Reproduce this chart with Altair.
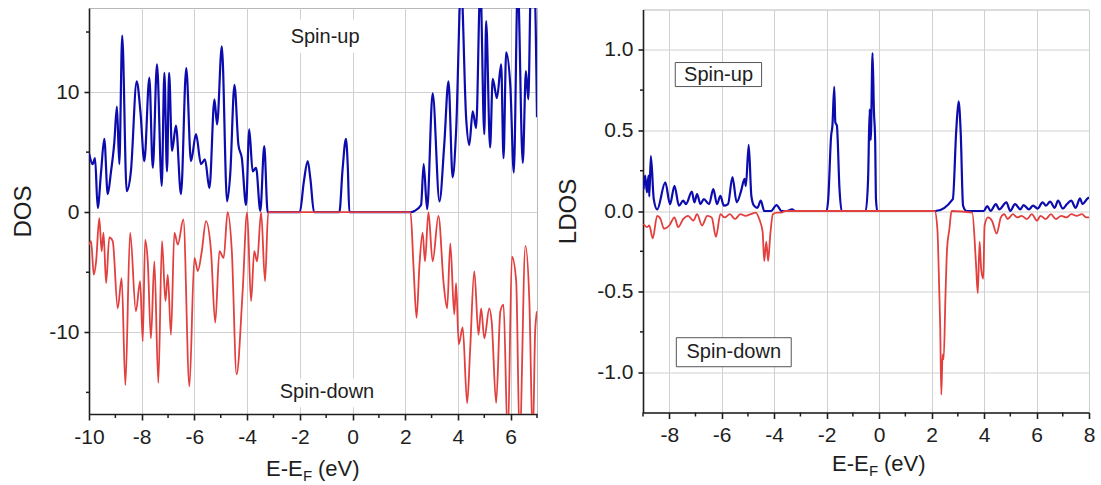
import altair as alt
import pandas as pd

# ---------------- Left panel: total DOS ----------------
dos_up_e = [-10.0, -9.86, -9.77, -9.67, -9.54, -9.42, -9.29, -9.17, -9.04, -8.94, -8.85, -8.74, -8.57, -8.41,
            -8.19, -8.05, -7.90, -7.71, -7.58, -7.42, -7.24, -7.14, -7.04, -6.96, -6.85, -6.70, -6.51, -6.31,
            -6.13, -5.94, -5.75, -5.60, -5.43, -5.24, -5.14, -4.96, -4.76, -4.64, -4.48, -4.33, -4.20, -4.04,
            -3.92, -3.79, -3.66, -3.50, -3.35, -3.22, -2.0, -1.85, -1.70, -1.60, -1.46, -0.5, -0.38, -0.25,
            -0.18, -0.12, 2.22, 2.35, 2.60, 2.70, 2.83, 3.04, 3.30, 3.48, 3.64, 3.80, 3.93, 4.12, 4.31, 4.43,
            4.56, 4.69, 4.85, 5.00, 5.07, 5.22, 5.32, 5.48, 5.64, 5.73, 5.83, 5.99, 6.12, 6.27, 6.46, 6.58,
            6.67, 6.77, 6.90, 7.0]
dos_up_v = [4.9, 4.0, 4.5, 0.35, 3.4, 6.1, 1.5, 3.3, 5.8, 8.8, 4.0, 14.7, 1.75, 3.4,
            10.9, 8.4, 4.25, 11.2, 3.7, 12.3, 2.2, 11.6, 3.4, 11.6, 5.1, 7.2, 1.5, 12.0,
            4.25, 6.5, 4.0, 4.4, 2.0, 9.4, 7.3, 13.8, 0.9, 3.2, 10.6, 5.6, 4.5, 0.6,
            6.9, 3.4, 3.7, 0.1, 5.5, 0.0, 0.0, 2.5, 4.25, 2.8, 0.0, 0.0, 3.5, 6.1,
            3.8, 0.0, 0.0, 0.1, 0.6, 4.0, 0.25, 9.9, 0.9, 5.6, 10.9, 2.9, 6.75, 19.0, 7.9, 5.6,
            8.4, 7.0, 19.0, 6.5, 15.9, 5.4, 11.1, 9.5, 12.3, 4.5, 13.3, 10.4, 3.3, 19.0, 4.1, 11.75,
            9.4, 19.0, 19.0, 7.9]

dos_dn_e = [-10.0, -9.92, -9.82, -9.73, -9.61, -9.52, -9.45, -9.35, -9.23, -9.10, -8.91, -8.76, -8.62, -8.44,
            -8.22, -8.06, -7.96, -7.87, -7.77, -7.65, -7.52, -7.37, -7.23, -7.10, -7.01, -6.89, -6.76, -6.63,
            -6.42, -6.19, -6.00, -5.87, -5.72, -5.56, -5.37, -5.21, -5.05, -4.89, -4.74, -4.58, -4.40, -4.17,
            -4.00, -3.85, -3.73, -3.62, -3.47, -3.32, -3.20, 2.20, 2.32, 2.43, 2.54, 2.66, 2.75, 2.88, 3.04,
            3.26, 3.46, 3.59, 3.71, 3.86, 3.93, 4.03, 4.18, 4.35, 4.46, 4.62, 4.78, 4.88, 5.00, 5.19, 5.28,
            5.45, 5.61, 5.73, 5.89, 6.05, 6.21, 6.34, 6.56, 6.71, 6.84, 6.93, 7.00]
dos_dn_v = [-2.7, -2.4, -5.2, -4.1, -0.5, -3.25, -1.7, -5.9, -2.1, -2.4, -8.0, -5.5, -14.4, -1.7,
            -8.25, -5.75, -10.75, -2.3, -4.1, -10.5, -4.1, -14.2, -2.4, -7.4, -5.2, -10.2, -1.7, -2.7,
            -0.6, -14.5, -3.8, -4.9, -3.25, -0.75, -3.25, -9.2, -3.25, -3.8, 0.0, -3.25, -13.5, -6.6,
            0.0, -7.4, -3.25, -4.1, 0.0, -5.75, 0.0, 0.0, -4.8, -8.8, -4.4, -1.7, -4.1, 0.0, -4.1,
            -0.3, -6.0, -8.0, -2.6, -8.5, -5.9, -11.0, -9.6, -15.9, -11.6, -4.9, -10.2, -8.0, -10.5, -8.0, -9.1,
            -15.9, -8.25, -7.7, -19.0, -3.7, -5.75, -19.0, -2.8, -7.4, -19.0, -9.9, -8.25]

# ---------------- Right panel: LDOS ----------------
ldos_up_e = [-8.98, -8.92, -8.85, -8.79, -8.76, -8.70, -8.59, -8.46, -8.15, -7.97, -7.80, -7.63, -7.47, -7.36,
             -7.14, -7.04, -6.94, -6.81, -6.68, -6.48, -6.32, -6.18, -6.05, -5.92, -5.76, -5.59, -5.43, -5.26,
             -5.13, -5.08, -4.97, -4.87, -4.77, -4.64, -4.51, -4.38, -4.12, -3.91, -3.72, -3.52, -3.32, -3.20,
             -2.0, -1.94, -1.83, -1.78, -1.71, -1.67, -1.61, -1.51, -1.43, -0.51, -0.42, -0.36, -0.32, -0.25,
             -0.20, -0.15, -0.12, -0.07, 2.15, 2.81, 2.94, 3.03, 3.11, 3.20, 3.33, 3.99, 4.12, 4.25, 4.45,
             4.58, 4.85, 5.0, 5.18, 5.38, 5.51, 5.71, 5.87, 6.04, 6.23, 6.36, 6.52, 6.69, 6.82, 7.0, 7.16,
             7.32, 7.49, 7.66, 7.75, 7.92, 8.0]
ldos_up_v = [0.136, 0.22, 0.115, 0.22, 0.09, 0.34, 0.074, 0.01, 0.177, 0.043, 0.156, 0.033, 0.064, 0.043,
             0.12, 0.054, 0.105, 0.043, 0.074, 0.043, 0.136, 0.043, 0.094, 0.033, 0.043, 0.21, 0.054, 0.125,
             0.20, 0.156, 0.41, 0.094, 0.033, 0.02, 0.064, 0.0, 0.0, 0.037, 0.0, 0.0, 0.01, 0.0,
             0.0, 0.074, 0.465, 0.53, 0.77, 0.55, 0.53, 0.136, 0.0, 0.0, 0.2, 0.63, 0.44, 0.98,
             0.63, 0.43, 0.074, 0.0, 0.0, 0.074, 0.5, 0.68, 0.486, 0.033, 0.0, 0.0, 0.03, 0.0, 0.043,
             0.01, 0.054, 0.0, 0.043, 0.01, 0.037, 0.01, 0.033, 0.015, 0.054, 0.033, 0.058, 0.02, 0.064, 0.015, 0.043,
             0.064, 0.02, 0.078, 0.043, 0.074, 0.085]

ldos_dn_e = [-8.98, -8.85, -8.76, -8.63, -8.46, -8.33, -8.20, -8.00, -7.80, -7.66, -7.47, -7.28, -7.08, -6.94,
             -6.75, -6.55, -6.38, -6.22, -6.05, -5.89, -5.69, -5.49, -5.29, -5.09, -4.90, -4.70, -4.57, -4.44,
             -4.38, -4.30, -4.23, -4.15, -4.05, -3.89, -3.72, -3.59, 2.12, 2.22, 2.29, 2.33, 2.37, 2.42, 2.46,
             2.53, 2.59, 2.68, 2.76, 3.55, 3.69, 3.76, 3.83, 3.89, 3.97, 4.02, 4.15, 4.30, 4.48, 4.64, 4.77,
             4.90, 5.10, 5.27, 5.43, 5.63, 5.82, 6.02, 6.15, 6.35, 6.55, 6.74, 6.94, 7.14, 7.33, 7.53, 7.73,
             7.90, 8.00]
ldos_dn_v = [-0.08, -0.10, -0.09, -0.17, -0.03, -0.05, -0.11, -0.09, -0.04, -0.10, -0.05, -0.03, -0.06, -0.02,
             -0.09, -0.03, -0.04, -0.16, -0.02, -0.04, -0.02, -0.05, -0.02, -0.03, -0.02, -0.01, -0.05, -0.13,
             -0.31, -0.19, -0.31, -0.15, -0.02, -0.01, -0.01, 0.0, 0.0, -0.11, -0.48, -0.73, -1.14, -0.89, -0.92,
             -0.52, -0.235, -0.11, 0.0, -0.01, -0.32, -0.51, -0.19, -0.36, -0.42, -0.09, -0.04, -0.06, -0.14, -0.04, -0.02,
             -0.05, -0.02, -0.04, -0.03, -0.05, -0.02, -0.06, -0.03, -0.05, -0.02, -0.05, -0.03, -0.04, -0.02, -0.03, -0.02,
             -0.04, -0.04]

# Axis ticks
left_x_major = [-10, -8, -6, -4, -2, 0, 2, 4, 6]
left_x_minor = [-9, -7, -5, -3, -1, 1, 3, 5, 7]
left_y_major = [-10, 0, 10]
left_y_minor = [-15, -5, 5, 15]
right_x_major = [-8, -6, -4, -2, 0, 2, 4, 6, 8]
right_x_minor = [-9, -7, -5, -3, -1, 1, 3, 5, 7]
right_y_major = [-1.0, -0.5, 0.0, 0.5, 1.0]
right_y_minor = [-0.75, -0.25, 0.25, 0.75]

# Annotations
left_labels = ["Spin-up", "Spin-down"]
left_label_x = [-1.04, -0.97]
left_label_y = [14.6, -15.0]
left_bg_x = [-2.6, -3.0]
left_bg_x2 = [0.5, 1.05]
left_bg_y = [16.0, -13.9]
left_bg_y2 = [13.3, -16.2]

right_labels = ["Spin-up", "Spin-down"]
right_label_x = [-6.12, -5.54]
right_label_y = [0.846, -0.876]
right_box_x = [-7.77, -7.73]
right_box_x2 = [-4.48, -3.35]
right_box_y = [0.921, -0.786]
right_box_y2 = [0.772, -0.966]

BLUE = "#0c0cae"
RED = "#e2403f"
INK = "#1e1e1e"
FONT = "Liberation Sans"
MINUS = "replace(datum.label, '\u2212', '-')"


def panel(up_e, up_v, dn_e, dn_v, xdom, ydom, xmaj, xmin, ymaj, ymin, yfmt, ytitle,
          W, H, ytitlepad, lab, lab_x, lab_y, bx, bx2, by, by2, boxed, xt_center, xt_base):
    xs = alt.Scale(domain=xdom, nice=False, zero=False)
    ys = alt.Scale(domain=ydom, nice=False, zero=False)
    xaxis = alt.Axis(values=xmaj, title=None, grid=True, tickSize=6, labelPadding=6,
                     labelExpr=MINUS, labelFlush=False, labelOverlap=False,
                     labelFontSize=21, labelFont=FONT, labelColor=INK)
    yaxis = alt.Axis(values=ymaj, title=ytitle, format=yfmt, grid=True, tickSize=5, labelPadding=5,
                     titlePadding=ytitlepad, labelExpr=MINUS, labelOverlap=False,
                     labelFontSize=21, labelFont=FONT, labelColor=INK,
                     titleFontSize=24, titleFont=FONT, titleFontWeight="normal", titleColor=INK)

    def X(f):
        return alt.X(f, type="quantitative", scale=xs, axis=xaxis)

    def Y(f):
        return alt.Y(f, type="quantitative", scale=ys, axis=yaxis)

    up = pd.DataFrame({"e": up_e, "v": up_v})
    dn = pd.DataFrame({"e": dn_e, "v": dn_v})
    bx_df = pd.DataFrame({"x": bx, "x2": bx2, "y": by, "y2": by2})
    lab_df = pd.DataFrame({"x": lab_x, "y": lab_y, "t": lab})
    one = pd.DataFrame({"a": [0]})

    boxes = alt.Chart(bx_df).mark_rect(
        fill="white", stroke="#555555" if boxed else "white", strokeWidth=1
    ).encode(x=X("x"), x2="x2", y=Y("y"), y2="y2")
    l_up = alt.Chart(up).mark_line(color=BLUE, strokeWidth=2.2, clip=True,
                                   interpolate="monotone").encode(x=X("e"), y=Y("v"))
    l_dn = alt.Chart(dn).mark_line(color=RED, strokeWidth=1.8, clip=True,
                                   interpolate="monotone").encode(x=X("e"), y=Y("v"))
    mx = alt.Chart(pd.DataFrame({"v": xmin})).mark_rule(color=INK, strokeWidth=1.5).encode(
        x=X("v"), y=alt.value(H), y2=alt.value(H + 4))
    my = alt.Chart(pd.DataFrame({"v": ymin})).mark_rule(color=INK, strokeWidth=1.5).encode(
        y=Y("v"), x=alt.value(0), x2=alt.value(-3))
    txt = alt.Chart(lab_df).mark_text(font=FONT, fontSize=20, color=INK, align="center",
                                      baseline="middle").encode(x=X("x"), y=Y("y"), text="t:N")
    start = xt_center - 47
    t1 = alt.Chart(one).mark_text(font=FONT, fontSize=22, color=INK, align="left",
                                  baseline="alphabetic").encode(
        x=alt.value(start), y=alt.value(xt_base), text=alt.value("E-E"))
    t2 = alt.Chart(one).mark_text(font=FONT, fontSize=15, color=INK, align="left",
                                  baseline="alphabetic").encode(
        x=alt.value(start + 37), y=alt.value(xt_base + 5), text=alt.value("F"))
    t3 = alt.Chart(one).mark_text(font=FONT, fontSize=22, color=INK, align="left",
                                  baseline="alphabetic").encode(
        x=alt.value(start + 52), y=alt.value(xt_base), text=alt.value("(eV)"))
    return alt.layer(boxes, l_up, l_dn, mx, my, txt, t1, t2, t3).properties(width=W, height=H)


left = panel(dos_up_e, dos_up_v, dos_dn_e, dos_dn_v, [-10, 7], [-16.8, 17],
             left_x_major, left_x_minor, left_y_major, left_y_minor, "d", "DOS",
             448, 406, 13, left_labels, left_label_x, left_label_y,
             left_bg_x, left_bg_x2, left_bg_y, left_bg_y2, False, 224, 468)

right = panel(ldos_up_e, ldos_up_v, ldos_dn_e, ldos_dn_v, [-9, 8], [-1.25, 1.25],
              right_x_major, right_x_minor, right_y_major, right_y_minor, ".1f", "LDOS",
              446, 403, 16, right_labels, right_label_x, right_label_y,
              right_box_x, right_box_x2, right_box_y, right_box_y2, True, 236, 461)

chart = alt.hconcat(left, right, spacing=106, bounds="flush", center=True).properties(
    padding={"left": 11, "top": 7, "right": 5, "bottom": 5}, background="white"
).configure_view(
    stroke="#b8b8b8", strokeWidth=1
).configure_axis(
    domainColor=INK, domainWidth=1.6, tickColor=INK, tickWidth=1.6,
    gridColor="#d0d0d0", gridWidth=1
)

chart.save("out.html", embed_options={"renderer": "svg", "actions": False})
